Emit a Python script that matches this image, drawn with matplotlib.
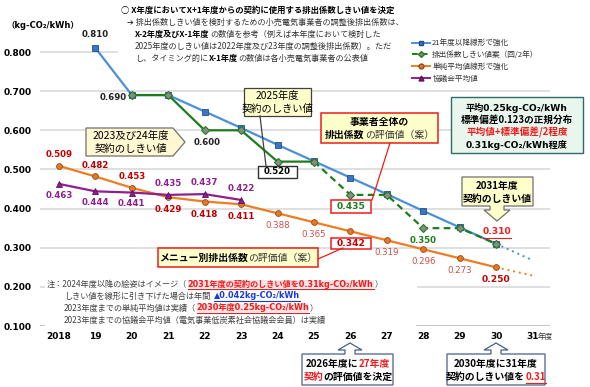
import matplotlib
matplotlib.use('Agg')
import matplotlib.pyplot as plt
from matplotlib.patches import Polygon
from matplotlib.lines import Line2D

plt.rcParams['font.family'] = ['Noto Sans CJK JP', 'DejaVu Sans']

W, H = 590, 387

# ---- data ----
years = list(range(2018, 2031))
blue_years = list(range(2019, 2031))
blue_vals = [0.810, 0.690, 0.690, 0.648, 0.606, 0.563, 0.521, 0.479, 0.437, 0.394, 0.352, 0.310]
blue_ext_years = [2030, 2031]
blue_ext_vals = [0.310, 0.268]
green_years = list(range(2020, 2031))
green_vals = [0.690, 0.690, 0.600, 0.600, 0.520, 0.520, 0.435, 0.435, 0.350, 0.350, 0.310]
orange_vals = [0.509, 0.482, 0.453, 0.429, 0.418, 0.411, 0.388, 0.365, 0.342, 0.319, 0.296, 0.273, 0.250]
orange_ext_years = [2030, 2031]
orange_ext_vals = [0.250, 0.229]
purple_years = list(range(2018, 2024))
purple_vals = [0.463, 0.444, 0.441, 0.435, 0.437, 0.422]
x_ticks = list(range(2018, 2032))
x_labels = ['2018', '19', '20', '21', '22', '23', '24', '25', '26', '27', '28', '29', '30', '31']
y_ticks = [0.1, 0.2, 0.3, 0.4, 0.5, 0.6, 0.7, 0.8]

C_BLUE = '#4a8fd8'
C_GREEN = '#1d7d1d'
C_ORANGE = '#f07c22'
C_PURPLE = '#8e1f8e'
C_DRED = '#c00000'
C_LRED = '#c8504a'
C_RED = '#ee1c1c'
C_YEL = '#ffffcc'
DV = ['DejaVu Sans', 'Noto Sans CJK JP']

fig = plt.figure(figsize=(W / 100, H / 100), dpi=100)
ax = fig.add_axes([40 / W, 1 - 326 / H, 510 / W, 306 / H])
ax.set_xlim(2017.478, 2031.48)
ax.set_ylim(0.1, 0.1 + 306 / 391.4)
for s in ax.spines.values():
    s.set_visible(False)

# grid lines (partly hidden behind the text blocks)
for v in y_ticks:
    if v == 0.8:
        ax.axhline(v, xmax=80 / 510, color='#d9d9d9', lw=1.2, zorder=0)
    elif v == 0.2:
        ax.axhline(v, xmax=6 / 510, color='#d9d9d9', lw=1.2, zorder=0)
        ax.axhline(v, xmin=378 / 510, color='#d9d9d9', lw=1.2, zorder=0)
    elif v == 0.1:
        ax.axhline(v, color='#c8c8c8', lw=1.5, zorder=0)
    else:
        ax.axhline(v, color='#d9d9d9', lw=1.2, zorder=0)

ax.set_yticks(y_ticks)
ax.set_yticklabels(['%.3f' % v for v in y_ticks], fontsize=6.5, fontweight='bold', family='DejaVu Sans')
ax.set_xticks(x_ticks)
ax.set_xticklabels(x_labels, fontsize=6.5, fontweight='bold', family='DejaVu Sans')
ax.tick_params(length=0)
ax.tick_params(axis='y', pad=6)
ax.tick_params(axis='x', pad=4)

# ---- series ----
ax.plot(blue_years, blue_vals, color=C_BLUE, lw=1.6, marker='s', ms=4.2,
        mfc='#3a75c4', mec='#24508a', mew=0.6, zorder=3)
ax.plot(blue_ext_years, blue_ext_vals, color=C_BLUE, lw=1.4, ls=(0, (1, 2)), zorder=2)
ax.plot(green_years[:6], green_vals[:6], color=C_GREEN, lw=1.6, zorder=4)
ax.plot(green_years[5:], green_vals[5:], color=C_GREEN, lw=1.6, ls=(0, (3, 2)), zorder=4)
ax.plot(green_years, green_vals, ls='none', marker='D', ms=3.6, mfc='#8a8a8a', mec=C_GREEN, mew=0.8, zorder=5)
ax.plot(years, orange_vals, color=C_ORANGE, lw=1.6, marker='o', ms=4.2,
        mfc='#e2782a', mec='#9a4a12', mew=0.6, zorder=3)
ax.plot(orange_ext_years, orange_ext_vals, color=C_ORANGE, lw=1.4, ls=(0, (1, 2)), zorder=2)
ax.plot(purple_years, purple_vals, color=C_PURPLE, lw=1.6, marker='^', ms=4.2,
        mfc='#8e1f8e', mec='#5a0f5a', mew=0.6, zorder=3)

num = dict(family='DejaVu Sans', fontsize=6.2, ha='center', va='center')

# orange labels
for i, (x, v) in enumerate(zip(years, orange_vals)):
    if i == 8:
        continue
    dy = 8 if i < 3 else -9
    if i < 6 or i == 12:
        kw = dict(color=C_DRED, fontweight='bold')
    else:
        kw = dict(color=C_LRED)
    t = ax.annotate('%.3f' % v, (x, v), xytext=(0, dy), textcoords='offset points', **num, **kw)
    if i == 12:
        t.set_fontsize(6.6)

# purple labels
for i, (x, v) in enumerate(zip(purple_years, purple_vals)):
    dy = -8 if i < 3 else 8
    ax.annotate('%.3f' % v, (x, v), xytext=(0, dy), textcoords='offset points',
                color=C_PURPLE, fontweight='bold', **num)

# blue / green labels
ax.annotate('%.3f' % blue_vals[0], (blue_years[0], blue_vals[0]), xytext=(0, 10),
            textcoords='offset points', fontweight='bold', color='#222222', **num)
ax.annotate('%.3f' % green_vals[0], (green_years[0], green_vals[0]), xytext=(-4, -2),
            textcoords='offset points', fontweight='bold', color='#222222',
            family='DejaVu Sans', fontsize=6.2, ha='right', va='center')
ax.annotate('%.3f' % green_vals[2], (green_years[2], green_vals[2]), xytext=(2, -9),
            textcoords='offset points', fontweight='bold', color='#222222', **num)
ax.annotate('%.3f' % green_vals[8], (green_years[8], green_vals[8]), xytext=(0, -9),
            textcoords='offset points', fontweight='bold', color=C_GREEN, **num)


def P(x, y):
    return (x / W, 1 - y / H)


def poly(pts, fc, ec, lw=0.9):
    fig.patches.append(Polygon([P(x, y) for x, y in pts], closed=True, fc=fc, ec=ec, lw=lw,
                               transform=fig.transFigure, figure=fig, zorder=6))


def box(x0, y0, x1, y1, fc, ec, lw=0.9):
    poly([(x0, y0), (x1, y0), (x1, y1), (x0, y1)], fc, ec, lw)


def seg(x0, y0, x1, y1, color, lw=0.9):
    fig.lines.append(Line2D([x0 / W, x1 / W], [1 - y0 / H, 1 - y1 / H], color=color, lw=lw,
                            transform=fig.transFigure, figure=fig, zorder=9))


renderer = fig.canvas.get_renderer()


def rich(x, y, parts, size=6.0, ha='left', gap=0.6):
    items = []
    total = 0
    for s, kw in parts:
        kw = dict(kw)
        ul = kw.pop('ul', False)
        hl = kw.pop('hl', None)
        total += kw.pop('pre', 0)
        t = fig.text(0, 0, s, fontsize=size, va='center', ha='left', zorder=8, **kw)
        w = t.get_window_extent(renderer).width
        items.append((t, total, w, ul, hl, kw.get('color', 'black')))
        total += w + gap
    total -= gap
    x0 = x - total / 2 if ha == 'center' else x
    for t, off, w, ul, hl, c in items:
        t.set_position(P(x0 + off, y))
        if hl:
            box(x0 + off, y - size * 0.75, x0 + off + w, y + size * 0.75, hl, 'none', 0)
        if ul:
            seg(x0 + off, y + size * 0.85, x0 + off + w, y + size * 0.85, c, 0.8)


B = dict(fontweight='bold')
N = dict(color='#333333')

# ---- header text ----
box(118, 2, 402, 66, 'white', 'none', 0)
rich(121, 10, [('○ X年度においてX+1年度からの契約に使用する排出係数しきい値を決定', B)], 6.0)
rich(127, 22, [('➔ 排出係数しきい値を検討するための小売電気事業者の調整後排出係数は、', N)], 5.85)
rich(135, 34, [('X-2年度及びX-1年度', B), ('の数値を参考（例えば本年度において検討した', N)], 5.85)
rich(135, 46, [('2025年度のしきい値は2022年度及び23年度の調整後排出係数）。ただ', N)], 5.85)
rich(135, 58, [('し、タイミング的に', N), ('X-1年度', B), ('の数値は各小売電気事業者の公表値', N)], 5.85)
rich(6, 25, [('（kg-CO₂/kWh）', dict(fontweight='bold', family=DV))], 6.0)

# legend
handles = [
    Line2D([], [], color=C_BLUE, lw=1.4, marker='s', ms=3.5, mfc='#3a75c4', mec='#24508a'),
    Line2D([], [], color=C_GREEN, lw=1.4, ls=(0, (3, 2)), marker='D', ms=3, mfc='#8a8a8a', mec=C_GREEN),
    Line2D([], [], color=C_ORANGE, lw=1.4, marker='o', ms=3.5, mfc='#e2782a', mec='#9a4a12'),
    Line2D([], [], color=C_PURPLE, lw=1.4, marker='^', ms=3.5, mfc=C_PURPLE, mec='#5a0f5a'),
]
labels = ['21年度以降線形で強化', '排出係数しきい値案（回/2年）', '単純平均値線形で強化', '協議会平均値']
leg = fig.legend(handles, labels, loc='upper left', bbox_to_anchor=P(407, 34), fontsize=5.5,
                 frameon=False, handlelength=2.3, handletextpad=0.3, labelspacing=0.5,
                 borderpad=0.2)
for t in leg.get_texts():
    t.set_color('#333333')

# ---- callouts ----
box(244, 88, 311, 116, C_YEL, '#404040')
rich(277.5, 96, [('2025年度', {})], 7.4, 'center')
rich(277.5, 109, [('契約のしきい値', {})], 7.4, 'center')
seg(260, 116, 266, 166, '#404040')
box(258, 166, 297, 178, 'white', '#303030', 1.0)
rich(277.5, 172, [('0.520', dict(fontweight='bold', family='DejaVu Sans'))], 6.2, 'center')

poly([(86, 128), (173, 128), (185, 142), (173, 156), (86, 156)], '#fff8d2', '#707070')
rich(131, 136, [('2023及び24年度', {})], 7.5, 'center')
rich(131, 149, [('契約のしきい値', {})], 7.5, 'center')

box(321, 113, 438, 143, C_YEL, C_RED, 1.1)
rich(379.5, 122, [('事業者全体の', B)], 7.1, 'center')
rich(379.5, 135, [('排出係数', B), ('の評価値（案）', N)], 7.1, 'center')
seg(390, 143, 372, 200, C_RED)
box(331, 200, 371, 213, 'white', C_RED, 1.1)
rich(351, 206.5, [('0.435', dict(fontweight='bold', family='DejaVu Sans', color=C_GREEN))], 6.6, 'center')

box(158, 248, 318, 267, C_YEL, C_RED, 1.1)
rich(238, 257.5, [('メニュー別排出係数', B), ('の評価値（案）', N)], 7.1, 'center')
seg(318, 259, 343, 248, C_RED)
box(331, 238, 371, 249, 'white', C_RED, 1.1)
rich(351, 243.5, [('0.342', dict(fontweight='bold', family='DejaVu Sans', color=C_DRED))], 6.6, 'center')

box(451, 97, 583, 153, '#e8f6ee', '#2e6b6b', 1.0)
rich(517, 108, [('平均0.25kg-CO₂/kWh', dict(fontweight='bold', family=DV))], 6.6, 'center')
rich(517, 120, [('標準偏差0.123の正規分布', B)], 6.9, 'center')
rich(517, 132, [('平均値+標準偏差/2程度', dict(fontweight='bold', color=C_RED))], 6.9, 'center')
rich(517, 145, [('0.31kg-CO₂/kWh程度', dict(fontweight='bold', family=DV))], 6.6, 'center')

poly([(462, 177), (533, 177), (533, 206), (504, 206), (504, 210), (510, 210), (497, 221),
      (484, 210), (490, 210), (490, 206), (462, 206)], C_YEL, '#707070')
rich(497.5, 186, [('2031年度', B)], 7.1, 'center')
rich(497.5, 199, [('契約のしきい値', B)], 7.1, 'center')
rich(497, 232, [('0.310', dict(fontweight='bold', family='DejaVu Sans', color=C_RED, ul=True))], 6.6, 'center')

# "31年度" axis suffix
rich(538, 337, [('年度', dict(color='#333333'))], 5.5)

# bottom up-arrow callouts
for cx, x0, x1 in [(350, 302, 393), (496, 447, 545)]:
    poly([(x0, 385), (x0, 354), (cx - 5, 354), (cx - 5, 350), (cx - 12, 350), (cx, 343),
          (cx + 12, 350), (cx + 5, 350), (cx + 5, 354), (x1, 354), (x1, 385)], 'white', '#4a5f8a')
R = dict(fontweight='bold', color=C_RED)
rich(348, 364, [('2026年度に', B), ('27年度', R)], 7.1, 'center')
rich(348, 377, [('契約', R), ('の評価値を決定', B)], 7.1, 'center')
rich(496, 364, [('2030年度に31年度', B)], 7.1, 'center')
rich(496, 377, [('契約のしきい値を', B), ('0.31', dict(fontweight='bold', color=C_RED, ul=True))], 7.1, 'center')

# ---- note ----
box(45, 277, 416, 326, 'white', 'none', 0)
G = dict(color='#404040')
HL = dict(fontweight='bold', color=C_RED, family=DV, hl='#fbe3e6', ul=True)
rich(47, 284, [('注：2024年度以降の絵姿はイメージ（', G), ('2031年度の契約のしきい値を0.31kg-CO₂/kWh', HL),
               ('）', G)], 5.9)
rich(64, 296, [('しきい値を線形に引き下げた場合は年間', G),
               ('▲0.042kg-CO₂/kWh', dict(fontweight='bold', color='#1a3adc', family=DV, ul=True, pre=3))], 5.9)
rich(64, 308, [('2023年度までの単純平均値は実績（', G), ('2030年度0.25kg-CO₂/kWh', HL), ('）', G)], 5.9)
rich(64, 320, [('2023年度までの協議会平均値（電気事業低炭素社会協議会会員）は実績', G)], 5.9)

fig.savefig('out.png', dpi=100)
